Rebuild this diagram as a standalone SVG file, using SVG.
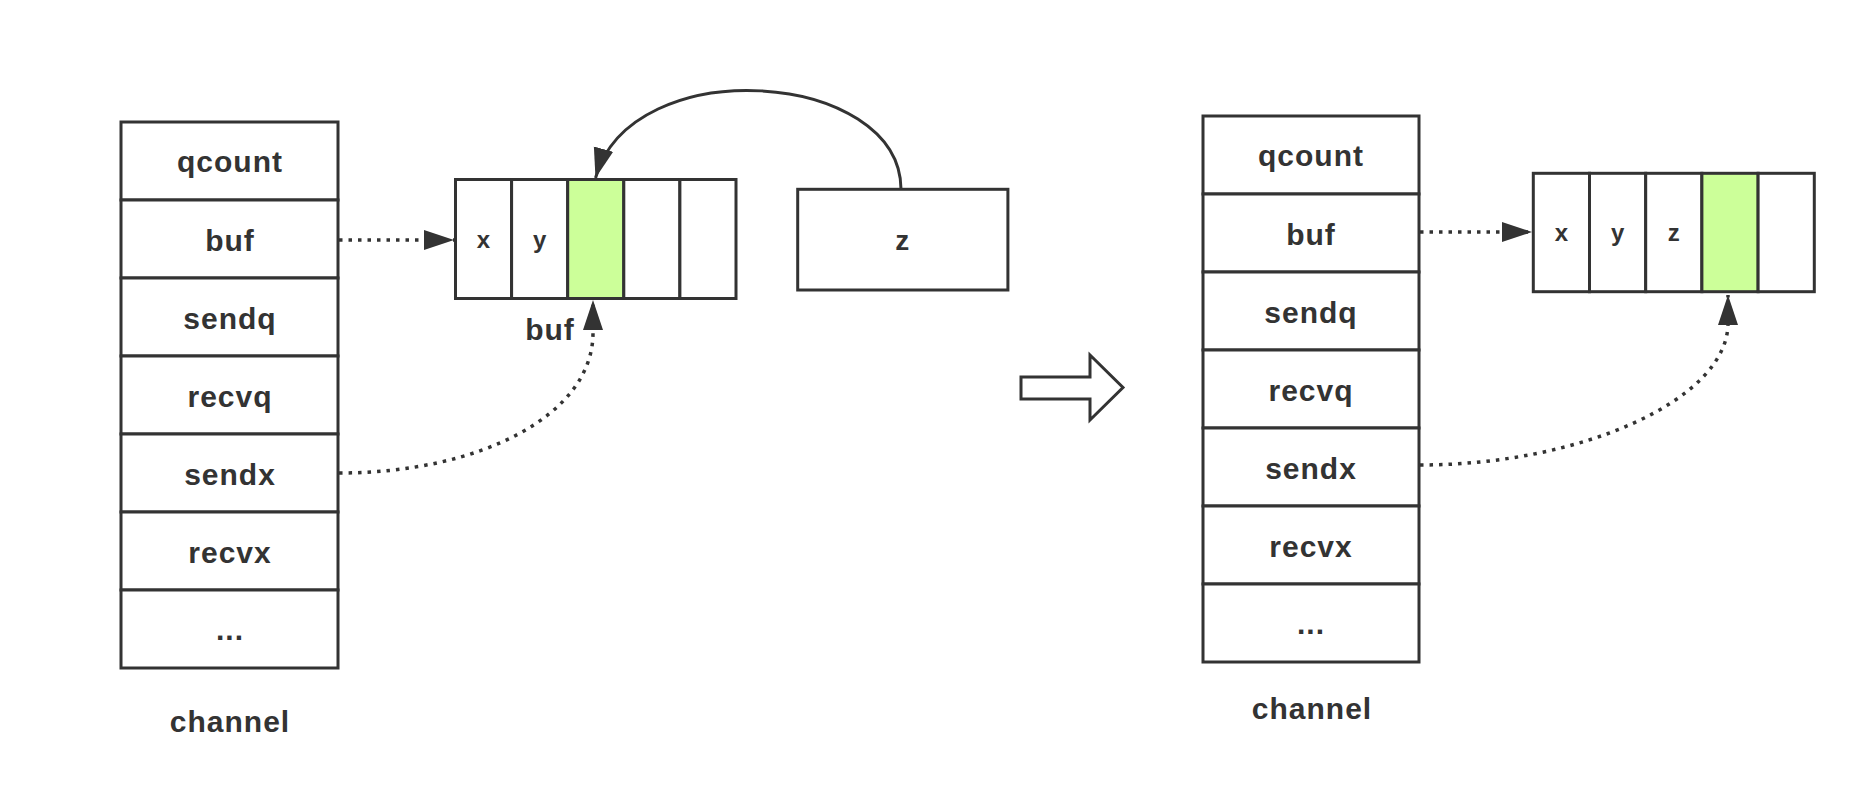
<svg xmlns="http://www.w3.org/2000/svg" width="1864" height="808" viewBox="0 0 1864 808">
<style>
.box{fill:#fff;stroke:#333;stroke-width:3}
.green{fill:#CCFF99;stroke:#333;stroke-width:3}
.lbl{font-family:"Liberation Sans",Arial,sans-serif;font-weight:bold;font-size:30px;fill:#333;text-anchor:middle;letter-spacing:1px}
.cell{font-family:"Liberation Sans",Arial,sans-serif;font-weight:bold;font-size:24px;fill:#333;text-anchor:middle}
.dot{fill:none;stroke:#333;stroke-width:3.5;stroke-dasharray:3.5 6}
.solid{fill:none;stroke:#333;stroke-width:3}
</style>
<defs>
<marker id="ah" markerUnits="userSpaceOnUse" markerWidth="32" markerHeight="22" refX="30" refY="10" orient="auto" viewBox="0 0 32 22">
<path d="M0,0 L30,10 L0,20 Z" fill="#333"/>
</marker>
</defs>
<rect width="1864" height="808" fill="#fff"/>

<g id="channel-left">
<rect class="box" x="121" y="122" width="217" height="78"/>
<rect class="box" x="121" y="200" width="217" height="78"/>
<rect class="box" x="121" y="278" width="217" height="78"/>
<rect class="box" x="121" y="356" width="217" height="78"/>
<rect class="box" x="121" y="434" width="217" height="78"/>
<rect class="box" x="121" y="512" width="217" height="78"/>
<rect class="box" x="121" y="590" width="217" height="78"/>
<text class="lbl" x="230" y="172">qcount</text>
<text class="lbl" x="230" y="250.5">buf</text>
<text class="lbl" x="230" y="328.5">sendq</text>
<text class="lbl" x="230" y="406.5">recvq</text>
<text class="lbl" x="230" y="484.5">sendx</text>
<text class="lbl" x="230" y="562.5">recvx</text>
<text class="lbl" x="230" y="640">...</text>
<text class="lbl" x="230" y="732">channel</text>
</g>

<g id="buf-left">
<rect class="box" x="455.5" y="179.5" width="56.1" height="119"/>
<rect class="box" x="511.6" y="179.5" width="56.1" height="119"/>
<rect class="green" x="567.7" y="179.5" width="56.1" height="119"/>
<rect class="box" x="623.8" y="179.5" width="56.1" height="119"/>
<rect class="box" x="679.9" y="179.5" width="56.1" height="119"/>
<text class="cell" x="483.5" y="248">x</text>
<text class="cell" x="539.6" y="248">y</text>
<text class="lbl" x="550" y="340">buf</text>
</g>

<g id="z-box">
<rect class="box" x="797.7" y="189.3" width="210.2" height="100.7"/>
<text class="lbl" x="902.8" y="249.5" style="font-size:28px">z</text>
</g>

<g id="transition-arrow">
<polygon class="box" points="1021,377 1090,377 1090,355 1123,387.5 1090,420 1090,399 1021,399"/>
</g>

<g id="channel-right">
<rect class="box" x="1203" y="116" width="216" height="78"/>
<rect class="box" x="1203" y="194" width="216" height="78"/>
<rect class="box" x="1203" y="272" width="216" height="78"/>
<rect class="box" x="1203" y="350" width="216" height="78"/>
<rect class="box" x="1203" y="428" width="216" height="78"/>
<rect class="box" x="1203" y="506" width="216" height="78"/>
<rect class="box" x="1203" y="584" width="216" height="78"/>
<text class="lbl" x="1311" y="166">qcount</text>
<text class="lbl" x="1311" y="244.5">buf</text>
<text class="lbl" x="1311" y="322.5">sendq</text>
<text class="lbl" x="1311" y="400.5">recvq</text>
<text class="lbl" x="1311" y="478.5">sendx</text>
<text class="lbl" x="1311" y="556.5">recvx</text>
<text class="lbl" x="1311" y="634">...</text>
<text class="lbl" x="1312" y="719">channel</text>
</g>

<g id="buf-right">
<rect class="box" x="1533.3" y="173.3" width="56.2" height="118.4"/>
<rect class="box" x="1589.5" y="173.3" width="56.2" height="118.4"/>
<rect class="box" x="1645.7" y="173.3" width="56.2" height="118.4"/>
<rect class="green" x="1701.9" y="173.3" width="56.2" height="118.4"/>
<rect class="box" x="1758.1" y="173.3" width="56.2" height="118.4"/>
<text class="cell" x="1561.4" y="241">x</text>
<text class="cell" x="1617.6" y="241">y</text>
<text class="cell" x="1673.8" y="241">z</text>
</g>

<g id="connectors">
<path class="dot" d="M339,240 L454,240" marker-end="url(#ah)"/>
<path class="dot" d="M339,473 C480,473 593,415 593,333 L593,300" marker-end="url(#ah)"/>
<path class="solid" d="M901,189 C900,70 631,50 595.5,178" marker-end="url(#ah)"/>
<path class="dot" d="M1420,232 L1532,232" marker-end="url(#ah)"/>
<path class="dot" d="M1420,465 C1580,465 1728,400 1728,323 L1728,295" marker-end="url(#ah)"/>
</g>
</svg>
